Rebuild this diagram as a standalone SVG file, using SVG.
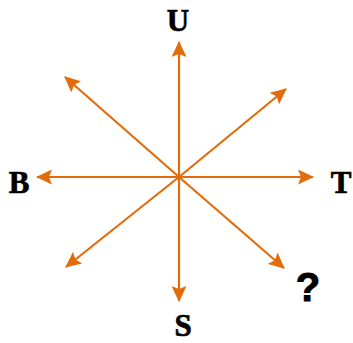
<svg xmlns="http://www.w3.org/2000/svg" width="353" height="343" viewBox="0 0 353 343">
<defs>
<marker id="ah" viewBox="0 0 16 15" refX="15" refY="7.5" markerWidth="16" markerHeight="15" markerUnits="userSpaceOnUse" orient="auto">
<path d="M0,0 L16,7.5 L0,15 L3,7.5 Z" fill="#E36C0A"/>
</marker>
<style>
.c{stroke:#E36C0A;stroke-width:2.2;fill:none;marker-end:url(#ah)}
.l{font-family:"Liberation Serif",serif;font-weight:bold;font-size:31px;fill:#000;stroke:#000;stroke-width:0.7;text-anchor:middle}
</style>
</defs>
<rect width="353" height="343" fill="#fff"/>
<g id="connectors">
<line class="c" x1="179" y1="177" x2="179" y2="42"/>
<line class="c" x1="179" y1="177" x2="179" y2="301"/>
<line class="c" x1="179" y1="177" x2="37" y2="177"/>
<line class="c" x1="179" y1="177" x2="313" y2="177"/>
<line class="c" x1="179" y1="177" x2="65" y2="77"/>
<line class="c" x1="179" y1="177" x2="286" y2="89"/>
<line class="c" x1="179" y1="177" x2="66" y2="267"/>
<line class="c" x1="179" y1="177" x2="284" y2="268"/>
</g>
<g id="U"><text class="l" x="178" y="31">U</text></g>
<g id="B"><text class="l" x="19" y="193">B</text></g>
<g id="T"><text class="l" x="341" y="193">T</text></g>
<g id="S"><text class="l" x="183" y="336">S</text></g>
<g id="Q"><text x="308" y="301" style="font-family:'Liberation Sans',sans-serif;font-weight:bold;font-size:40px;text-anchor:middle;stroke:#000;stroke-width:1">?</text></g>
</svg>
